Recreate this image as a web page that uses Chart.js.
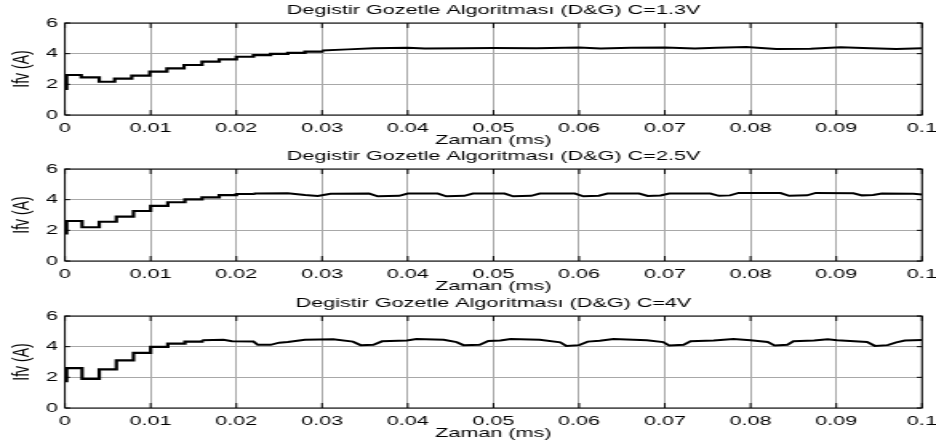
<!DOCTYPE html>
<html>
<head>
<meta charset="utf-8">
<script src="https://cdn.jsdelivr.net/npm/chart.js@4.4.1/dist/chart.umd.min.js"></script>
<style>
  body { margin: 0; background: #fff; }
  #wrap { position: relative; width: 936px; height: 448px; overflow: hidden; background: #fff; }
  /* the original figure is stretched sideways, so the canvases are too */
  #wrap canvas { position: absolute; left: 0; transform: scaleX(1.6); transform-origin: 0 0; }
</style>
</head>
<body>
<div id="wrap">
  <canvas id="c1" width="585" height="148" style="top:0px"></canvas>
  <canvas id="c2" width="585" height="148" style="top:146px"></canvas>
  <canvas id="c3" width="585" height="148" style="top:293px"></canvas>
</div>
<script>
// axis ticks
const xTicks = [0, 0.01, 0.02, 0.03, 0.04, 0.05, 0.06, 0.07, 0.08, 0.09, 0.1];
const yTicks = [0, 2, 4, 6];

const titles = [
  'Degistir Gozetle Algoritması (D&G) C=1.3V',
  'Degistir Gozetle Algoritması (D&G) C=2.5V',
  'Degistir Gozetle Algoritması (D&G) C=4V'
];

// C=1.3V: start-up staircase (each value holds until next time) and settled part
const t1a = [0, 0.0002, 0.0019, 0.004, 0.0058, 0.0078, 0.0099, 0.0119, 0.0139, 0.016, 0.018, 0.020, 0.022,
  0.024, 0.026, 0.028, 0.030];
const i1a = [1.7, 2.61, 2.46, 2.17, 2.37, 2.57, 2.83, 3.04, 3.26, 3.48, 3.63, 3.8, 3.9,
  3.98, 4.05, 4.13, 4.2];
const t1b = [0.030, 0.033, 0.036, 0.040, 0.042, 0.0465, 0.050, 0.055, 0.060, 0.0625, 0.066, 0.070, 0.0735,
  0.076, 0.0795, 0.083, 0.087, 0.0905, 0.094, 0.097, 0.1];
const i1b = [4.2, 4.28, 4.36, 4.38, 4.33, 4.35, 4.37, 4.36, 4.41, 4.33, 4.38, 4.4, 4.34,
  4.38, 4.44, 4.3, 4.32, 4.42, 4.36, 4.3, 4.36];

// C=2.5V
const t2a = [0, 0.0002, 0.002, 0.004, 0.006, 0.008, 0.010, 0.012, 0.014, 0.016, 0.018, 0.020, 0.022];
const i2a = [1.8, 2.61, 2.2, 2.56, 2.89, 3.26, 3.59, 3.83, 4.02, 4.15, 4.3, 4.37, 4.4];
const t2b = [0.022, 0.026, 0.028, 0.0295, 0.031, 0.0355, 0.0365, 0.039, 0.040, 0.0435, 0.0445, 0.0466,
  0.0476, 0.0513, 0.0523, 0.0544, 0.0554, 0.0595, 0.0605, 0.0623, 0.0633, 0.067, 0.068, 0.0695, 0.0705,
  0.0753, 0.0763, 0.0776, 0.0786, 0.0835, 0.0845, 0.0866, 0.0876, 0.092, 0.093, 0.0943, 0.0953, 0.099, 0.1];
const i2b = [4.4, 4.42, 4.3, 4.24, 4.38, 4.4, 4.22, 4.25, 4.4, 4.4, 4.22, 4.25,
  4.4, 4.4, 4.22, 4.25, 4.4, 4.4, 4.22, 4.26, 4.4, 4.4, 4.24, 4.27, 4.4,
  4.4, 4.25, 4.28, 4.44, 4.43, 4.25, 4.28, 4.44, 4.42, 4.28, 4.3, 4.4, 4.38, 4.33];

// C=4V
const t3a = [0, 0.0002, 0.002, 0.004, 0.006, 0.008, 0.010, 0.012, 0.014, 0.016];
const i3a = [1.75, 2.6, 1.9, 2.52, 3.1, 3.6, 3.98, 4.2, 4.33, 4.42];
const t3b = [0.016, 0.0185, 0.0195, 0.022, 0.0225, 0.024, 0.025, 0.026, 0.028, 0.0313, 0.0336, 0.0345,
  0.036, 0.037, 0.0399, 0.041, 0.0442, 0.0457, 0.0465, 0.0484, 0.0494, 0.0508, 0.052, 0.0554, 0.0578,
  0.0585, 0.06, 0.061, 0.0624, 0.064, 0.0679, 0.0698, 0.0705, 0.0722, 0.073, 0.0757, 0.078, 0.08, 0.082,
  0.0828, 0.0843, 0.085, 0.0874, 0.089, 0.0901, 0.0936, 0.0945, 0.096, 0.097, 0.098, 0.1];
const i3b = [4.42, 4.45, 4.35, 4.33, 4.12, 4.12, 4.26, 4.3, 4.45, 4.48, 4.33, 4.1,
  4.12, 4.35, 4.4, 4.5, 4.45, 4.3, 4.1, 4.12, 4.37, 4.4, 4.5, 4.45, 4.28,
  4.05, 4.1, 4.33, 4.38, 4.5, 4.42, 4.3, 4.08, 4.12, 4.35, 4.4, 4.5, 4.42, 4.3,
  4.08, 4.12, 4.35, 4.4, 4.48, 4.42, 4.3, 4.05, 4.1, 4.28, 4.4, 4.43];

const FONT = "'Liberation Sans', Arial, Helvetica, sans-serif";

function fmt(v) { return String(Number(v.toFixed(3))); }
function pts(ts, vs) { return ts.map((t, k) => ({ x: t, y: vs[k] })); }

// MATLAB-like box with inward ticks
const boxPlugin = {
  id: 'box',
  afterDraw(chart) {
    const { ctx, chartArea: a, scales: { x, y } } = chart;
    ctx.save();
    ctx.strokeStyle = '#000';
    ctx.lineWidth = 1;
    ctx.beginPath();
    xTicks.forEach(v => {
      const px = x.getPixelForValue(v);
      ctx.moveTo(px, a.bottom); ctx.lineTo(px, a.bottom - 5);
      ctx.moveTo(px, a.top); ctx.lineTo(px, a.top + 5);
    });
    yTicks.forEach(v => {
      const py = y.getPixelForValue(v);
      ctx.moveTo(a.left, py); ctx.lineTo(a.left + 3.2, py);
      ctx.moveTo(a.right, py); ctx.lineTo(a.right - 3.2, py);
    });
    ctx.stroke();
    ctx.strokeRect(a.left, a.top, a.width, a.height);
    ctx.restore();
  }
};

function makeChart(id, ta, va, tb, vb, title) {
  return new Chart(document.getElementById(id), {
    type: 'line',
    data: {
      datasets: [
        { data: pts(ta, va), borderColor: '#000', borderWidth: 2.2, pointRadius: 0, stepped: 'before', fill: false },
        { data: pts(tb, vb), borderColor: '#000', borderWidth: 2, pointRadius: 0, fill: false }
      ]
    },
    options: {
      responsive: false,
      animation: false,
      devicePixelRatio: 1,
      layout: { padding: { left: 0, right: 8.75, top: 0, bottom: 0 } },
      plugins: {
        legend: { display: false },
        tooltip: { enabled: false },
        title: {
          display: true, text: title, color: '#000', fullSize: false,
          font: { family: FONT, size: 13.5, weight: 'normal' },
          padding: { top: 2, bottom: 4.8 }
        }
      },
      scales: {
        x: {
          type: 'linear', min: 0, max: 0.1,
          afterBuildTicks: s => { s.ticks = xTicks.map(v => ({ value: v })); },
          afterFit: s => { s.height = 33; s.paddingLeft = 0; s.paddingRight = 0; },
          grid: { color: '#a8a8a8', lineWidth: 1, drawTicks: false },
          border: { display: false },
          ticks: { color: '#000', font: { family: FONT, size: 13.5 }, padding: 5, maxRotation: 0, autoSkip: false, callback: v => fmt(v) },
          title: { display: true, text: 'Zaman (ms)', color: '#000', font: { family: FONT, size: 13.5 }, padding: 0 }
        },
        y: {
          min: 0, max: 6,
          afterBuildTicks: s => { s.ticks = yTicks.map(v => ({ value: v })); },
          afterFit: s => { s.width = 40.6; s.paddingTop = 0; s.paddingBottom = 0; },
          grid: { color: '#a8a8a8', lineWidth: 1, drawTicks: false },
          border: { display: false },
          ticks: { color: '#000', font: { family: FONT, size: 13.5 }, padding: 4.4, callback: v => fmt(v) },
          title: { display: true, text: 'Ifv (A)', color: '#000', font: { family: FONT, size: 14 }, padding: { top: 5.3, bottom: 0 } }
        }
      }
    },
    plugins: [boxPlugin]
  });
}

makeChart('c1', t1a, i1a, t1b, i1b, titles[0]);
makeChart('c2', t2a, i2a, t2b, i2b, titles[1]);
makeChart('c3', t3a, i3a, t3b, i3b, titles[2]);
</script>
</body>
</html>
